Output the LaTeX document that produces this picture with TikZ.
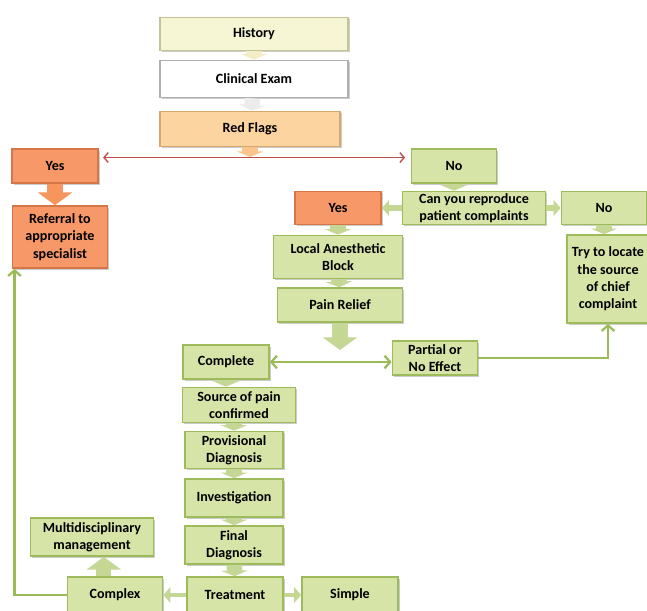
\documentclass[tikz,border=0pt]{standalone}
\usepackage{fontspec}
\setmainfont{Carlito}
\usetikzlibrary{arrows.meta,shadows}
\definecolor{greenfill}{RGB}{215,228,168}
\definecolor{greenedge}{RGB}{158,187,92}
\definecolor{orangefill}{RGB}{247,152,104}
\definecolor{orangeedge}{RGB}{212,118,72}
\definecolor{peachfill}{RGB}{251,212,160}
\definecolor{peachedge}{RGB}{214,168,112}
\definecolor{yellowfill}{RGB}{246,246,212}
\definecolor{yellowedge}{RGB}{196,196,150}
\definecolor{greyedge}{RGB}{175,175,175}
\definecolor{fatgreen}{RGB}{196,215,148}
\definecolor{fatorange}{RGB}{246,150,92}
\definecolor{fatpeach}{RGB}{250,196,138}
\definecolor{fatyellow}{RGB}{244,236,196}
\definecolor{fatwhite}{RGB}{236,236,236}
\definecolor{linegreen}{RGB}{155,187,89}
\definecolor{linered}{RGB}{192,80,77}

\begin{document}
\begin{tikzpicture}[x=0.025cm,y=-0.025cm,
  base/.style={rectangle, line width=1.2pt, align=center, inner sep=1pt,
    font=\bfseries\fontsize{10}{12.4}\selectfont,
    drop shadow={shadow xshift=1.2pt,shadow yshift=-1.2pt,opacity=.4}},
  greenbox/.style={base, draw=greenedge, fill=greenfill},
  orangebox/.style={base, draw=orangeedge, fill=orangefill},
  wh/.style 2 args={minimum width=#1*0.025cm, minimum height=#2*0.025cm},
  fatarrow/.style={draw=#1, line width=11pt, -{Triangle[length=9pt,width=24pt]}},
  stackarrow/.style={draw=#1, line width=11pt, -{Triangle[length=4pt,width=19pt]}},
  sidearrow/.style={draw=#1, line width=4pt, -{Triangle[length=5pt,width=11pt]}},
  thinarrow/.style={draw=linegreen, line width=1.6pt, -{Straight Barb[length=4pt,width=9pt]}}]
  \useasboundingbox (0,0) rectangle (647,611);

  % top column
  \node[base, draw=yellowedge, fill=yellowfill, wh={188}{33}] (hist) at (254,34) {History};
  \node[base, draw=greyedge, fill=white, wh={188}{37}] (exam) at (254,79) {Clinical Exam};
  \node[base, draw=peachedge, fill=peachfill, wh={180}{35}] (red) at (250,129) {Red Flags};

  % left branch
  \node[orangebox, wh={86}{34}] (yesA) at (55,166) {Yes};
  \node[orangebox, wh={95}{62}] (refer) at (60,237) {Referral to\\appropriate\\specialist};

  % right branch
  \node[greenbox, wh={85}{34}] (noA) at (454,166) {No};
  \node[greenbox, wh={143}{33}] (ask) at (474,208) {Can you reproduce\\patient complaints};
  \node[orangebox, wh={86}{33}] (yesB) at (338,208) {Yes};
  \node[greenbox, wh={85}{33}] (noB) at (604,208) {No};
  \node[greenbox, wh={82}{88}] (locate) at (608,279) {Try to locate\\the source\\of chief\\complaint};
  \node[greenbox, wh={129}{43}] (block) at (338,257) {Local Anesthetic\\Block};
  \node[greenbox, wh={125}{34}] (relief) at (340,305) {Pain Relief};
  \node[greenbox, wh={86}{34}] (complete) at (226,362) {Complete};
  \node[greenbox, wh={85}{34}] (partial) at (435,358) {Partial or\\No Effect};

  % diagnosis column
  \node[greenbox, wh={113}{35}] (source) at (239,405) {Source of pain\\confirmed};
  \node[greenbox, wh={98}{37}] (prov) at (234,450) {Provisional\\Diagnosis};
  \node[greenbox, wh={98}{38}] (invest) at (234,498) {Investigation};
  \node[greenbox, wh={98}{38}] (final) at (234,545) {Final\\Diagnosis};
  \node[greenbox, wh={123}{38}] (multi) at (92,537) {Multidisciplinary\\management};
  \node[greenbox, wh={95}{36}] (complex) at (115,595) {Complex};
  \node[greenbox, wh={96}{36}] (treat) at (235,595) {Treatment};
  \node[greenbox, wh={96}{36}] (simple) at (350,595) {Simple};

  \coordinate (redend) at (250,157);
  \coordinate (reliefend) at (340,350);

  % connectors
  \draw[stackarrow=fatyellow] (hist) -- (exam);
  \draw[stackarrow=fatwhite] (exam) -- (red);
  \draw[stackarrow=fatpeach] (red) -- (redend);
  \draw[draw=linered, line width=1pt, {Straight Barb[length=3pt,width=7pt]}-{Straight Barb[length=3pt,width=7pt]},
    shorten <=3pt, shorten >=4pt] ([yshift=6pt]yesA.east) -- ([yshift=6pt]noA.west);
  \draw[fatarrow=fatorange] (yesA.south) -- (yesA.south |- refer.north);
  \draw[stackarrow=fatgreen] (noA.south) -- (noA.south |- ask.north);
  \draw[sidearrow=fatgreen] (ask) -- (yesB);
  \draw[sidearrow=fatgreen] (ask) -- (noB);
  \draw[stackarrow=fatgreen] (noB.south) -- (noB.south |- locate.north);
  \draw[stackarrow=fatgreen] (yesB.south) -- (yesB.south |- block.north);
  \draw[stackarrow=fatgreen] (block) -- (relief);
  \draw[fatarrow=fatgreen] (relief) -- (reliefend);
  \draw[thinarrow, {Straight Barb[length=4pt,width=9pt]}-{Straight Barb[length=4pt,width=9pt]}]
    (complete.east) -- (complete.east -| partial.west);
  \draw[thinarrow] (partial.east) -| (locate.south);
  \draw[stackarrow=fatgreen] (complete.south) -- (complete.south |- source.north);
  \draw[stackarrow=fatgreen] (prov |- source.south) -- (prov.north);
  \draw[stackarrow=fatgreen] (prov) -- (invest);
  \draw[stackarrow=fatgreen] (invest) -- (final);
  \draw[stackarrow=fatgreen] (final) -- (treat);
  \draw[sidearrow=fatgreen, line width=2.5pt] (treat) -- (complex);
  \draw[sidearrow=fatgreen, line width=2.5pt] (treat) -- (simple);
  \draw[fatarrow=fatgreen] ([xshift=-8pt]complex.north) -- ([xshift=-8pt]complex.north |- multi.south);
  \draw[thinarrow] (complex.west) -| ([xshift=2pt]refer.south west);
\end{tikzpicture}
\end{document}
